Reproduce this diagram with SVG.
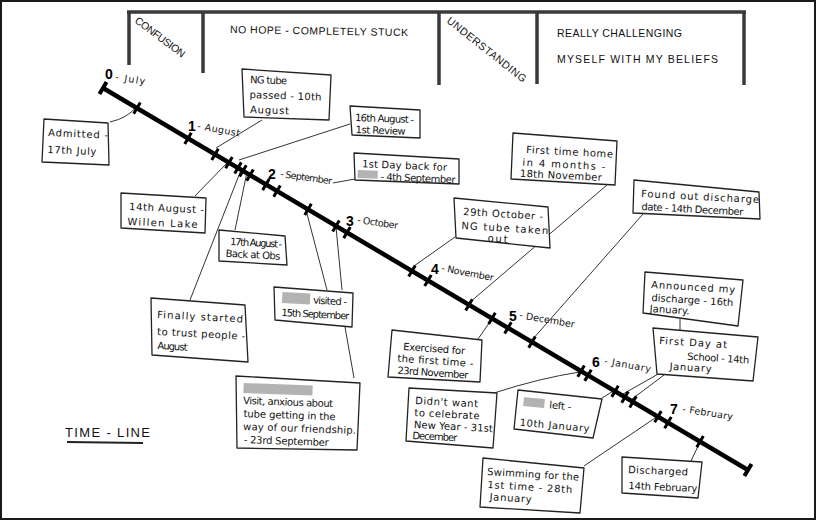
<svg xmlns="http://www.w3.org/2000/svg" width="817" height="521" viewBox="0 0 817 521">
<style>
.box{fill:#fff;stroke:#222;stroke-width:1.3;stroke-linejoin:round}
.t{font-family:"DejaVu Sans","Liberation Sans",Arial,sans-serif;font-size:10px;fill:#111}
.h{font-family:"Liberation Sans",Arial,sans-serif;font-size:10.5px;fill:#111}
.num{font-family:"Liberation Sans",Arial,sans-serif;font-size:14px;font-weight:bold;fill:#000}
.ml{font-family:"DejaVu Sans","Liberation Sans",Arial,sans-serif;font-size:9.5px;fill:#111}
.conn{fill:none;stroke:#333;stroke-width:1}
.red{fill:#b3b3b3}
.bar{stroke:#3a3a3a;stroke-width:3.5;fill:none}
</style>
<rect x="1" y="1" width="814" height="518" fill="#fff" stroke="#1a1a1a" stroke-width="2"/>

<g id="header">
  <line class="bar" x1="127" y1="12" x2="746" y2="12" stroke-width="4"/>
  <line class="bar" x1="129" y1="12" x2="129" y2="65"/>
  <line class="bar" x1="203" y1="12" x2="203" y2="73"/>
  <line class="bar" x1="439" y1="12" x2="439" y2="85"/>
  <line class="bar" x1="537" y1="12" x2="537" y2="84"/>
  <line class="bar" x1="744" y1="12" x2="744" y2="85"/>
  <text class="h" x="134" y="22" transform="rotate(37 134 22)" textLength="60" lengthAdjust="spacing">CONFUSION</text>
  <text class="h" x="230" y="33" transform="rotate(1 230 33)" textLength="178" lengthAdjust="spacing">NO HOPE - COMPLETELY STUCK</text>
  <text class="h" x="446" y="22" transform="rotate(38.4 446 22)" textLength="98" lengthAdjust="spacing">UNDERSTANDING</text>
  <text class="h" x="557" y="37" textLength="125" lengthAdjust="spacing">REALLY CHALLENGING</text>
  <text class="h" x="557" y="63" textLength="161" lengthAdjust="spacing">MYSELF WITH MY BELIEFS</text>
</g>

<g id="connectors">
  <path class="conn" d="M110 122 Q128 118 137 106"/>
  <path class="conn" d="M262 120 L216 148"/>
  <path class="conn" d="M350 124 L239 160"/>
  <path class="conn" d="M195 196 L227 163"/>
  <path class="conn" d="M190 300 L241 170"/>
  <path class="conn" d="M235 230 L247 172"/>
  <path class="conn" d="M355 179 L333 183"/>
  <path class="conn" d="M306 210 L327 290"/>
  <path class="conn" d="M336 227 L342 290"/>
  <path class="conn" d="M345 327 L354 378"/>
  <path class="conn" d="M455 237 L414 266"/>
  <path class="conn" d="M607 185 L469 303"/>
  <path class="conn" d="M643 214 L532 340"/>
  <path class="conn" d="M478 339 L492 319"/>
  <path class="conn" d="M494 393 Q540 378 580 372"/>
  <path class="conn" d="M602 398 L615 390"/>
  <path class="conn" d="M680 319 L680 330"/>
  <path class="conn" d="M660 373 L623 394"/>
  <path class="conn" d="M664 375 L632 399"/>
  <path class="conn" d="M584 466 L658 416"/>
  <path class="conn" d="M691 461 L700 442"/>
</g>

<g id="timeline" transform="translate(103 88) rotate(30.64)">
  <line x1="0" y1="0" x2="749.6" y2="0" stroke="#000" stroke-width="4.5"/>
  <path d="M0 -7V7 M749.6 -7V7" stroke="#000" stroke-width="4"/>
  <path stroke="#000" stroke-width="3" d="M39.5 -6.5V6.5 M98.8 -6.5V6.5 M130.2 -6.5V6.5 M146.4 -6.5V6.5 M156.9 -6.5V6.5 M162.7 -6.5V6.5 M170.9 -6.5V6.5 M189.4 -6.5V6.5 M202.2 -6.5V6.5 M238.3 -6.5V6.5 M270.8 -6.5V6.5 M283.6 -6.5V6.5 M359.1 -6.5V6.5 M377.7 -6.5V6.5 M425.4 -6.5V6.5 M452.1 -6.5V6.5 M470.7 -6.5V6.5 M498.6 -6.5V6.5 M555.6 -6.5V6.5 M563.7 -6.5V6.5 M595.1 -6.5V6.5 M606.7 -6.5V6.5 M616 -6.5V6.5 M645 -6.5V6.5 M656.6 -6.5V6.5 M693.9 -6.5V6.5"/>
</g>

<g id="months">
  <g id="m0"><text class="num" x="105" y="79">0</text><text class="ml" x="115" y="80" transform="rotate(9 115 80)" textLength="30" lengthAdjust="spacing">- July</text></g>
  <g id="m1"><text class="num" x="188" y="131">1</text><text class="ml" x="197" y="129" transform="rotate(10 197 129)" textLength="43" lengthAdjust="spacing">- August</text></g>
  <g id="m2"><text class="num" x="268" y="179">2</text><text class="ml" x="280" y="177" transform="rotate(8 280 177)" textLength="52" lengthAdjust="spacing">- September</text></g>
  <g id="m3"><text class="num" x="346" y="226">3</text><text class="ml" x="357" y="223" transform="rotate(8 357 223)" textLength="41" lengthAdjust="spacing">- October</text></g>
  <g id="m4"><text class="num" x="431" y="274">4</text><text class="ml" x="441" y="271" transform="rotate(11 441 271)" textLength="53" lengthAdjust="spacing">- November</text></g>
  <g id="m5"><text class="num" x="509" y="321">5</text><text class="ml" x="519" y="318" transform="rotate(10 519 318)" textLength="56" lengthAdjust="spacing">- December</text></g>
  <g id="m6"><text class="num" x="592" y="367">6</text><text class="ml" x="604" y="364" transform="rotate(10 604 364)" textLength="47" lengthAdjust="spacing">- January</text></g>
  <g id="m7"><text class="num" x="670" y="414">7</text><text class="ml" x="682" y="412" transform="rotate(9 682 412)" textLength="51" lengthAdjust="spacing">- February</text></g>
</g>

<g id="n-admitted"><polygon class="box" points="44,119 108,123 109,165 42,162"/>
  <g transform="rotate(2.5 48 136)"><text class="t" x="48" y="136" textLength="60" lengthAdjust="spacing">Admitted -</text><text class="t" x="48" y="153" textLength="49" lengthAdjust="spacing">17th July</text></g></g>

<g id="n-ngtube"><polygon class="box" points="242,69 331,75 329,120 244,117"/>
  <g transform="rotate(2 250 83)"><text class="t" x="250" y="83" textLength="37" lengthAdjust="spacing">NG tube</text><text class="t" x="250" y="98" textLength="72" lengthAdjust="spacing">passed - 10th</text><text class="t" x="251" y="113" textLength="39" lengthAdjust="spacing">August</text></g></g>

<g id="n-aug16"><polygon class="box" points="350,106 420,110 420,138 352,135"/>
  <g transform="rotate(2 355 121)"><text class="t" x="355" y="121" textLength="59" lengthAdjust="spacing">16th August -</text><text class="t" x="356" y="133" textLength="50" lengthAdjust="spacing">1st Review</text></g></g>

<g id="n-sep4"><polygon class="box" points="354,153 459,159 459,184 355,180"/>
  <g transform="rotate(2.5 358 167)"><text class="t" x="362" y="167" textLength="85" lengthAdjust="spacing">1st Day back for</text><rect class="red" x="358" y="170" width="20" height="8"/><text class="t" x="381" y="179" textLength="75" lengthAdjust="spacing">- 4th September</text></g></g>

<g id="n-aug14"><polygon class="box" points="121,193 206,198 205,233 121,228"/>
  <g transform="rotate(2.5 129 210)"><text class="t" x="129" y="210" textLength="75" lengthAdjust="spacing">14th August -</text><text class="t" x="128" y="225" textLength="70" lengthAdjust="spacing">Willen Lake</text></g></g>

<g id="n-aug17"><polygon class="box" points="219,230 285,236 287,265 219,261"/>
  <g transform="rotate(3 230 245)"><text class="t" x="230" y="245" textLength="52" lengthAdjust="spacing">17th August -</text><text class="t" x="226" y="257" textLength="55" lengthAdjust="spacing">Back at Obs</text></g></g>

<g id="n-nov18"><polygon class="box" points="513,133 617,141 615,185 511,179"/>
  <g transform="rotate(3 526 153)"><text class="t" x="526" y="153" textLength="87" lengthAdjust="spacing">First time home</text><text class="t" x="523" y="166" textLength="83" lengthAdjust="spacing">in 4 months -</text><text class="t" x="521" y="177" textLength="82" lengthAdjust="spacing">18th November</text></g></g>

<g id="n-oct29"><polygon class="box" points="454,198 548,207 550,248 456,238"/>
  <g transform="rotate(3.5 463 215)"><text class="t" x="463" y="215" textLength="80" lengthAdjust="spacing">29th October -</text><text class="t" x="462" y="229" textLength="87" lengthAdjust="spacing">NG tube taken</text><text class="t" x="489" y="240" textLength="20" lengthAdjust="spacing">out</text></g></g>

<g id="n-dec14"><polygon class="box" points="634,180 759,192 760,219 633,213"/>
  <g transform="rotate(3 641 197)"><text class="t" x="641" y="197" textLength="118" lengthAdjust="spacing">Found out discharge</text><text class="t" x="642" y="210" textLength="102" lengthAdjust="spacing">date - 14th December</text></g></g>

<g id="n-jan16"><polygon class="box" points="645,272 743,280 738,326 643,313"/>
  <g transform="rotate(3.5 651 288)"><text class="t" x="651" y="288" textLength="84" lengthAdjust="spacing">Announced my</text><text class="t" x="652" y="301" textLength="82" lengthAdjust="spacing">discharge - 16th</text><text class="t" x="651" y="312" textLength="40" lengthAdjust="spacing">January.</text></g></g>

<g id="n-jan14"><polygon class="box" points="653,328 758,337 753,381 657,374"/>
  <g transform="rotate(3.5 659 344)"><text class="t" x="659" y="344" textLength="68" lengthAdjust="spacing">First Day at</text><text class="t" x="688" y="358" textLength="62" lengthAdjust="spacing">School - 14th</text><text class="t" x="671" y="369" textLength="42" lengthAdjust="spacing">January</text></g></g>

<g id="n-nov23"><polygon class="box" points="392,330 482,340 480,382 388,377"/>
  <g transform="rotate(4 403 350)"><text class="t" x="403" y="350" textLength="62" lengthAdjust="spacing">Exercised for</text><text class="t" x="398" y="362" textLength="76" lengthAdjust="spacing">the first time -</text><text class="t" x="399" y="374" textLength="71" lengthAdjust="spacing">23rd November</text></g></g>

<g id="n-dec31"><polygon class="box" points="409,388 497,393 493,448 406,441"/>
  <g transform="rotate(3 415 404)"><text class="t" x="415" y="404" textLength="63" lengthAdjust="spacing">Didn't want</text><text class="t" x="415" y="416" textLength="65" lengthAdjust="spacing">to celebrate</text><text class="t" x="415" y="428" textLength="79" lengthAdjust="spacing">New Year - 31st</text><text class="t" x="414" y="439" textLength="45" lengthAdjust="spacing">December</text></g></g>

<g id="n-jan10"><polygon class="box" points="518,390 602,399 593,438 514,429"/>
  <g transform="rotate(5 522 408)"><rect class="red" x="523" y="397" width="21" height="9"/><text class="t" x="549" y="406" textLength="22" lengthAdjust="spacing">left -</text><text class="t" x="521" y="426" textLength="70" lengthAdjust="spacing">10th January</text></g></g>

<g id="n-jan28"><polygon class="box" points="483,458 584,468 580,513 480,507"/>
  <g transform="rotate(3.5 487 475)"><text class="t" x="487" y="475" textLength="92" lengthAdjust="spacing">Swimming for the</text><text class="t" x="488" y="488" textLength="85" lengthAdjust="spacing">1st time - 28th</text><text class="t" x="491" y="500" textLength="42" lengthAdjust="spacing">January</text></g></g>

<g id="n-feb14"><polygon class="box" points="622,457 702,462 698,498 622,493"/>
  <g transform="rotate(2.5 628 473)"><text class="t" x="628" y="473" textLength="60" lengthAdjust="spacing">Discharged</text><text class="t" x="629" y="489" textLength="69" lengthAdjust="spacing">14th February</text></g></g>

<g id="n-sep15"><polygon class="box" points="274,287 353,293 352,327 275,320"/>
  <g transform="rotate(3 282 301)"><rect class="red" x="282" y="292" width="28" height="11"/><text class="t" x="313" y="302" textLength="34" lengthAdjust="spacing">visited -</text><text class="t" x="282" y="316" textLength="68" lengthAdjust="spacing">15th September</text></g></g>

<g id="n-sep23"><polygon class="box" points="236,376 360,383 357,450 237,448"/>
  <g transform="rotate(2 243 404)"><rect class="red" x="243" y="383" width="69" height="10"/><text class="t" x="243" y="404" textLength="90" lengthAdjust="spacing">Visit, anxious about</text><text class="t" x="244" y="417" textLength="92" lengthAdjust="spacing">tube getting in the</text><text class="t" x="244" y="430" textLength="113" lengthAdjust="spacing">way of our friendship.</text><text class="t" x="245" y="443" textLength="85" lengthAdjust="spacing">- 23rd September</text></g></g>

<g id="n-trust"><polygon class="box" points="151,298 245,305 248,362 152,355"/>
  <g transform="rotate(3 157 318)"><text class="t" x="157" y="318" textLength="86" lengthAdjust="spacing">Finally started</text><text class="t" x="158" y="335" textLength="88" lengthAdjust="spacing">to trust people -</text><text class="t" x="159" y="349" textLength="30" lengthAdjust="spacing">August</text></g></g>

<g id="title">
  <text x="65" y="437" font-family="Liberation Sans, Arial, sans-serif" font-size="13" fill="#111" textLength="85" lengthAdjust="spacing">TIME - LINE</text>
  <line x1="67" y1="442" x2="143" y2="443" stroke="#222" stroke-width="1.8"/>
</g>
</svg>
